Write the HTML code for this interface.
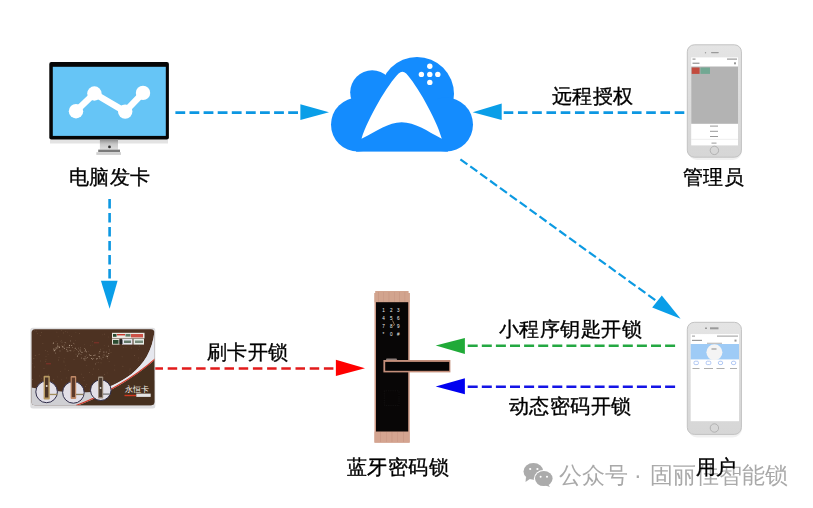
<!DOCTYPE html>
<html><head><meta charset="utf-8">
<style>
html,body{margin:0;padding:0;background:#fff;width:813px;height:508px;overflow:hidden}
body{position:relative;font-family:"Liberation Sans",sans-serif}
svg{position:absolute;left:0;top:0}
.t{position:absolute;font-size:20.4px;line-height:20px;color:#000;white-space:nowrap;letter-spacing:0.45px;will-change:transform;-webkit-text-stroke:0.35px #000}
.wm{position:absolute;font-size:23px;line-height:23px;color:#a9a9a9;white-space:nowrap;will-change:transform}
</style></head><body>
<svg width="813" height="508" viewBox="0 0 813 508">
<!-- ========== dashed lines ========== -->
<g fill="none" stroke-width="2.6">
 <path d="M175.4 112.6 L300.5 112.6" stroke="#0c97e2" stroke-dasharray="9.8 4.3"/>
 <path d="M684.3 112.6 L502 112.6" stroke="#0c97e2" stroke-dasharray="9.6 4.65"/>
 <path d="M109.6 199.1 L109.6 281" stroke="#0c97e2" stroke-dasharray="9.3 4.7"/>
 <path d="M460.4 159.3 L656.5 301" stroke="#0c9ae2" stroke-width="2.2" stroke-dasharray="8.6 3.6"/>
 <path d="M153.5 368.5 L336 368.5" stroke="#e21b1b" stroke-dasharray="9.5 4.7"/>
 <path d="M675.1 345.7 L465 345.7" stroke="#24a842" stroke-dasharray="10 4.1"/>
 <path d="M675.1 386.7 L465 386.7" stroke="#1414e6" stroke-dasharray="10 4.1"/>
</g>
<!-- arrowheads -->
<polygon points="300.4,104.3 300.4,120 329,112.2" fill="#0a9ee8"/>
<polygon points="501.7,103.4 501.7,120 472.7,112.2" fill="#0a9ee8"/>
<polygon points="100.9,280.7 117.6,280.7 109.6,308.8" fill="#0a9ee8"/>
<polygon points="661.8,295.6 652.2,307.4 680.6,318.8" fill="#0a9ee8"/>
<polygon points="335.9,359.7 335.9,376 365,368.3" fill="#ff0000"/>
<polygon points="464.9,338 464.9,354 435.7,345.5" fill="#20aa38"/>
<polygon points="464.9,378.2 464.9,394.2 435.7,386.6" fill="#0000f0"/>

<!-- ========== monitor ========== -->
<rect x="50" y="139.5" width="118" height="4" fill="#dcdcdc" opacity="0.8"/>
<rect x="49.3" y="62" width="119.6" height="77.4" rx="2" fill="#060606"/>
<rect x="52.8" y="66.8" width="113" height="69.1" fill="#66c5f6"/>
<polyline points="76,111.2 94.4,93.5 125.2,111.6 143,92.9" fill="none" stroke="#fff" stroke-width="6.5" stroke-linejoin="round"/>
<circle cx="76" cy="111.2" r="7.2" fill="#fff"/>
<circle cx="94.4" cy="93.5" r="7.2" fill="#fff"/>
<circle cx="125.2" cy="111.6" r="7.2" fill="#fff"/>
<circle cx="143" cy="92.9" r="7.2" fill="#fff"/>
<defs>
 <linearGradient id="stand" x1="0" y1="0" x2="0" y2="1">
  <stop offset="0" stop-color="#8f8f8f"/><stop offset="0.45" stop-color="#c8c8c8"/><stop offset="1" stop-color="#dedede"/>
 </linearGradient>
</defs>
<rect x="99.9" y="139.5" width="18.1" height="10.1" fill="url(#stand)"/>
<circle cx="109.5" cy="146.9" r="1.4" fill="#333"/>
<rect x="98.2" y="149.6" width="21.8" height="2.6" fill="#7a7a7a"/>
<rect x="96.3" y="152.2" width="24.7" height="2.7" fill="#cfcfcf"/>

<!-- ========== cloud ========== -->
<g fill="#148cfe">
 <circle cx="358" cy="124.6" r="27"/>
 <circle cx="372.2" cy="92.3" r="22"/>
 <circle cx="417" cy="94" r="37"/>
 <circle cx="446" cy="124.6" r="27"/>
 <rect x="356" y="100" width="92" height="51.6"/>
</g>
<path d="M361.5 138.7 C368 118, 388 84, 398.6 73.6 Q402.4 69.8, 406.2 73.6 C416 84, 436 118, 441.8 138.8 C427 131, 415 122.3, 401.7 122.3 C388 122.3, 378 131, 361.5 138.7 Z" fill="#fff"/>
<g fill="#fff">
 <circle cx="429.8" cy="66.2" r="2.7"/>
 <circle cx="429.8" cy="74.4" r="2.7"/>
 <circle cx="429.8" cy="82.4" r="2.7"/>
 <circle cx="421.4" cy="74.4" r="2.7"/>
 <circle cx="437.8" cy="74.4" r="2.7"/>
</g>

<!-- ========== admin phone ========== -->
<defs><linearGradient id="phg" x1="0" y1="0" x2="0" y2="1"><stop offset="0" stop-color="#e4e4e4"/><stop offset="1" stop-color="#d6d6d6"/></linearGradient></defs>
<rect x="688" y="47" width="54" height="113" rx="9" fill="#000" opacity="0.06"/>
<rect x="687.3" y="44.8" width="54.1" height="112.4" rx="7" fill="url(#phg)" stroke="#c2c2c2" stroke-width="1"/>
<rect x="691.2" y="57.4" width="46.8" height="88" fill="#fff"/>
<rect x="691.2" y="66.5" width="46.8" height="57.3" fill="#b3b3b3"/>
<rect x="691.7" y="67.5" width="7.9" height="6.4" fill="#c24b3e"/>
<rect x="700.4" y="67.5" width="9.6" height="6.4" fill="#72a893"/>
<rect x="711" y="52" width="7.8" height="1.2" rx="0.6" fill="#9a9a9a"/>
<circle cx="705.5" cy="52.7" r="0.7" fill="#9a9a9a"/>
<g fill="#999">
 <rect x="692.5" y="58.5" width="3" height="1.2"/><rect x="727" y="58.5" width="10" height="1.2"/>
 <rect x="692.5" y="62.6" width="7" height="1.3"/><rect x="734" y="62.3" width="2" height="2"/>
 <rect x="710" y="125.6" width="8" height="1"/><rect x="710" y="130.8" width="8" height="1"/>
 <rect x="710" y="136" width="8" height="1"/><rect x="711.5" y="142.6" width="5" height="1"/>
</g>
<rect x="691.2" y="138.9" width="46.8" height="0.5" fill="#ddd"/>
<circle cx="714.4" cy="150.4" r="4.2" fill="none" stroke="#a8a8a8" stroke-width="0.8"/>

<!-- ========== user phone ========== -->
<rect x="688" y="324.5" width="54" height="113" rx="9" fill="#000" opacity="0.06"/>
<rect x="687.3" y="322.3" width="54.1" height="112.1" rx="7" fill="url(#phg)" stroke="#c2c2c2" stroke-width="1"/>
<rect x="690.7" y="334.1" width="48.3" height="87.1" fill="#fff"/>
<rect x="690.7" y="344" width="48.3" height="15.4" fill="#9ecbf6"/>
<circle cx="714.4" cy="352.3" r="8" fill="#f4f4f4"/>
<rect x="705" y="327.5" width="2" height="1.5" fill="#9a9a9a"/>
<rect x="710" y="327.3" width="8.5" height="2" fill="#9a9a9a"/>
<g fill="#9a9a9a">
 <rect x="692" y="335.6" width="3" height="1"/><rect x="717" y="335.6" width="21" height="1"/>
 <rect x="692" y="339.8" width="10" height="1.2"/><rect x="734.5" y="339.6" width="2" height="2"/>
 <rect x="707" y="342.8" width="15" height="0.8"/>
 <rect x="711.5" y="348.4" width="5" height="1.2"/>
 <rect x="692.5" y="368" width="7" height="0.8"/><rect x="704" y="368" width="9" height="0.8"/>
 <rect x="716.5" y="368" width="8" height="0.8"/><rect x="730" y="368" width="7" height="0.8"/>
</g>
<g fill="none" stroke="#8fb0ee" stroke-width="0.7">
 <rect x="694" y="361.2" width="4.4" height="3.4" rx="1.2"/>
 <rect x="706.2" y="361.2" width="4.6" height="3.4" rx="1.2"/>
 <rect x="718.3" y="361.2" width="4.4" height="3.4" rx="1.7"/>
 <rect x="731.4" y="361.2" width="4.4" height="3.4" rx="1.7"/>
</g>
<circle cx="714.4" cy="428" r="4.2" fill="none" stroke="#a8a8a8" stroke-width="0.8"/>

<!-- ========== card ========== -->
<rect x="30.3" y="327.8" width="125" height="80.8" rx="2.5" fill="#dedee0"/>
<defs>
 <clipPath id="cardclip"><rect x="31.6" y="329.2" width="122.8" height="76" rx="3.5"/></clipPath>
</defs>
<g clip-path="url(#cardclip)">
 <rect x="31" y="329" width="124" height="77" fill="#4d3222"/>
 <circle cx="69.4" cy="350.2" r="0.3" fill="#f0dcc4" opacity="0.85"/>
 <circle cx="55.6" cy="353.0" r="0.5" fill="#f0dcc4" opacity="0.45"/>
 <circle cx="104.6" cy="355.0" r="0.4" fill="#f0dcc4" opacity="0.45"/>
 <circle cx="64.4" cy="348.3" r="0.5" fill="#f0dcc4" opacity="0.65"/>
 <circle cx="53.5" cy="343.1" r="0.5" fill="#f0dcc4" opacity="0.85"/>
 <circle cx="85.0" cy="351.4" r="0.3" fill="#f0dcc4" opacity="0.85"/>
 <circle cx="85.1" cy="356.7" r="0.5" fill="#f0dcc4" opacity="0.45"/>
 <circle cx="67.4" cy="347.8" r="0.3" fill="#f0dcc4" opacity="0.85"/>
 <circle cx="57.1" cy="346.5" r="0.3" fill="#f0dcc4" opacity="0.45"/>
 <circle cx="84.9" cy="359.9" r="0.5" fill="#f0dcc4" opacity="0.45"/>
 <circle cx="72.3" cy="347.3" r="0.3" fill="#f0dcc4" opacity="0.85"/>
 <circle cx="62.4" cy="346.8" r="0.5" fill="#f0dcc4" opacity="0.85"/>
 <circle cx="75.7" cy="348.1" r="0.4" fill="#f0dcc4" opacity="0.65"/>
 <circle cx="68.0" cy="351.1" r="0.3" fill="#f0dcc4" opacity="0.85"/>
 <circle cx="96.8" cy="359.3" r="0.4" fill="#f0dcc4" opacity="0.65"/>
 <circle cx="93.8" cy="358.3" r="0.4" fill="#f0dcc4" opacity="0.85"/>
 <circle cx="108.8" cy="355.1" r="0.4" fill="#f0dcc4" opacity="0.45"/>
 <circle cx="106.0" cy="356.3" r="0.4" fill="#f0dcc4" opacity="0.45"/>
 <circle cx="107.7" cy="356.8" r="0.4" fill="#f0dcc4" opacity="0.65"/>
 <circle cx="91.7" cy="358.6" r="0.5" fill="#f0dcc4" opacity="0.65"/>
 <circle cx="84.8" cy="348.5" r="0.4" fill="#f0dcc4" opacity="0.65"/>
 <circle cx="91.8" cy="358.4" r="0.3" fill="#f0dcc4" opacity="0.45"/>
 <circle cx="93.9" cy="355.4" r="0.5" fill="#f0dcc4" opacity="0.65"/>
 <circle cx="67.1" cy="351.0" r="0.4" fill="#f0dcc4" opacity="0.85"/>
 <circle cx="70.8" cy="350.7" r="0.5" fill="#f0dcc4" opacity="0.45"/>
 <circle cx="79.6" cy="350.7" r="0.3" fill="#f0dcc4" opacity="0.65"/>
 <circle cx="57.8" cy="348.4" r="0.4" fill="#f0dcc4" opacity="0.45"/>
 <circle cx="60.0" cy="350.9" r="0.4" fill="#f0dcc4" opacity="0.85"/>
 <circle cx="66.7" cy="349.3" r="0.5" fill="#f0dcc4" opacity="0.65"/>
 <circle cx="92.4" cy="359.4" r="0.4" fill="#f0dcc4" opacity="0.85"/>
 <circle cx="103.1" cy="357.1" r="0.3" fill="#f0dcc4" opacity="0.45"/>
 <circle cx="63.9" cy="346.6" r="0.3" fill="#f0dcc4" opacity="0.45"/>
 <circle cx="79.1" cy="349.4" r="0.3" fill="#f0dcc4" opacity="0.45"/>
 <circle cx="75.1" cy="348.2" r="0.4" fill="#f0dcc4" opacity="0.85"/>
 <circle cx="84.0" cy="358.7" r="0.5" fill="#f0dcc4" opacity="0.85"/>
 <circle cx="89.3" cy="354.7" r="0.5" fill="#f0dcc4" opacity="0.45"/>
 <circle cx="77.4" cy="356.1" r="0.5" fill="#f0dcc4" opacity="0.85"/>
 <circle cx="73.5" cy="343.2" r="0.4" fill="#f0dcc4" opacity="0.65"/>
 <circle cx="56.2" cy="348.2" r="0.3" fill="#f0dcc4" opacity="0.45"/>
 <circle cx="76.4" cy="349.3" r="0.3" fill="#f0dcc4" opacity="0.65"/>
 <circle cx="86.0" cy="358.3" r="0.5" fill="#f0dcc4" opacity="0.45"/>
 <circle cx="106.9" cy="356.1" r="0.5" fill="#f0dcc4" opacity="0.45"/>
 <circle cx="54.2" cy="350.7" r="0.5" fill="#f0dcc4" opacity="0.65"/>
 <circle cx="107.3" cy="356.4" r="0.5" fill="#f0dcc4" opacity="0.65"/>
 <circle cx="78.4" cy="354.0" r="0.4" fill="#f0dcc4" opacity="0.65"/>
 <circle cx="79.0" cy="353.9" r="0.3" fill="#f0dcc4" opacity="0.45"/>
 <circle cx="56.1" cy="347.6" r="0.5" fill="#f0dcc4" opacity="0.45"/>
 <circle cx="81.0" cy="354.6" r="0.3" fill="#f0dcc4" opacity="0.85"/>
 <circle cx="71.7" cy="345.6" r="0.5" fill="#f0dcc4" opacity="0.65"/>
 <circle cx="108.7" cy="346.1" r="0.3" fill="#f0dcc4" opacity="0.85"/>
 <circle cx="100.7" cy="349.2" r="0.4" fill="#f0dcc4" opacity="0.45"/>
 <circle cx="82.0" cy="352.2" r="0.5" fill="#f0dcc4" opacity="0.65"/>
 <circle cx="88.2" cy="351.5" r="0.3" fill="#f0dcc4" opacity="0.45"/>
 <circle cx="99.1" cy="352.9" r="0.5" fill="#f0dcc4" opacity="0.45"/>
 <circle cx="62.0" cy="342.1" r="0.3" fill="#f0dcc4" opacity="0.65"/>
 <circle cx="78.3" cy="351.4" r="0.3" fill="#f0dcc4" opacity="0.85"/>
 <circle cx="86.3" cy="351.8" r="0.5" fill="#f0dcc4" opacity="0.65"/>
 <circle cx="107.3" cy="358.2" r="0.4" fill="#f0dcc4" opacity="0.45"/>
 <circle cx="63.2" cy="347.4" r="0.3" fill="#f0dcc4" opacity="0.65"/>
 <circle cx="87.4" cy="357.6" r="0.5" fill="#f0dcc4" opacity="0.45"/>
 <circle cx="78.8" cy="348.1" r="0.3" fill="#f0dcc4" opacity="0.85"/>
 <circle cx="57.2" cy="343.9" r="0.4" fill="#f0dcc4" opacity="0.85"/>
 <circle cx="95.0" cy="355.0" r="0.5" fill="#f0dcc4" opacity="0.65"/>
 <circle cx="55.2" cy="349.7" r="0.5" fill="#f0dcc4" opacity="0.65"/>
 <circle cx="77.8" cy="350.8" r="0.3" fill="#f0dcc4" opacity="0.45"/>
 <circle cx="109.6" cy="350.9" r="0.3" fill="#f0dcc4" opacity="0.45"/>
 <circle cx="85.4" cy="350.1" r="0.5" fill="#f0dcc4" opacity="0.85"/>
 <circle cx="108.8" cy="353.6" r="0.5" fill="#f0dcc4" opacity="0.65"/>
 <circle cx="59.4" cy="347.2" r="0.5" fill="#f0dcc4" opacity="0.85"/>
 <circle cx="56.2" cy="348.8" r="0.5" fill="#f0dcc4" opacity="0.45"/>
 <circle cx="76.0" cy="354.1" r="0.3" fill="#f0dcc4" opacity="0.45"/>
 <circle cx="65.1" cy="342.7" r="0.4" fill="#f0dcc4" opacity="0.85"/>
 <circle cx="64.4" cy="344.9" r="0.4" fill="#f0dcc4" opacity="0.45"/>
 <circle cx="53.7" cy="348.9" r="0.5" fill="#f0dcc4" opacity="0.65"/>
 <circle cx="103.9" cy="351.9" r="0.5" fill="#f0dcc4" opacity="0.65"/>
 <circle cx="99.6" cy="351.4" r="0.5" fill="#f0dcc4" opacity="0.45"/>
 <circle cx="81.9" cy="352.4" r="0.4" fill="#f0dcc4" opacity="0.45"/>
 <circle cx="86.5" cy="355.1" r="0.3" fill="#f0dcc4" opacity="0.45"/>
 <circle cx="58.5" cy="346.9" r="0.3" fill="#f0dcc4" opacity="0.65"/>
 <circle cx="90.9" cy="355.5" r="0.5" fill="#f0dcc4" opacity="0.85"/>
 <circle cx="78.9" cy="352.5" r="0.3" fill="#f0dcc4" opacity="0.45"/>
 <circle cx="61.5" cy="340.8" r="0.3" fill="#f0dcc4" opacity="0.45"/>
 <circle cx="80.5" cy="347.2" r="0.3" fill="#f0dcc4" opacity="0.65"/>
 <circle cx="69.5" cy="345.5" r="0.5" fill="#f0dcc4" opacity="0.85"/>
 <circle cx="80.7" cy="351.1" r="0.5" fill="#f0dcc4" opacity="0.65"/>
 <circle cx="80.5" cy="349.0" r="0.3" fill="#f0dcc4" opacity="0.85"/>
 <circle cx="81.4" cy="357.9" r="0.5" fill="#f0dcc4" opacity="0.45"/>
 <circle cx="100.4" cy="351.1" r="0.3" fill="#f0dcc4" opacity="0.65"/>
 <circle cx="57.3" cy="347.4" r="0.3" fill="#f0dcc4" opacity="0.65"/>
 <circle cx="54.4" cy="350.2" r="0.5" fill="#f0dcc4" opacity="0.65"/>
 <circle cx="97.0" cy="358.4" r="0.5" fill="#f0dcc4" opacity="0.85"/>
 <circle cx="89.6" cy="355.1" r="0.3" fill="#f0dcc4" opacity="0.65"/>
 <circle cx="103.0" cy="357.6" r="0.3" fill="#f0dcc4" opacity="0.65"/>
 <circle cx="103.1" cy="354.9" r="0.3" fill="#f0dcc4" opacity="0.85"/>
 <circle cx="99.9" cy="358.1" r="0.5" fill="#f0dcc4" opacity="0.65"/>
 <circle cx="70.3" cy="350.7" r="0.3" fill="#f0dcc4" opacity="0.65"/>
 <circle cx="69.1" cy="347.3" r="0.5" fill="#f0dcc4" opacity="0.65"/>
 <circle cx="76.4" cy="349.5" r="0.3" fill="#f0dcc4" opacity="0.65"/>
 <circle cx="69.9" cy="344.9" r="0.3" fill="#f0dcc4" opacity="0.45"/>
 <circle cx="109.1" cy="349.8" r="0.3" fill="#f0dcc4" opacity="0.45"/>
 <circle cx="55.0" cy="348.5" r="0.3" fill="#f0dcc4" opacity="0.65"/>
 <circle cx="95.3" cy="363.9" r="0.4" fill="#f0dcc4" opacity="0.85"/>
 <circle cx="99.1" cy="356.4" r="0.5" fill="#f0dcc4" opacity="0.85"/>
 <circle cx="79.7" cy="353.6" r="0.4" fill="#f0dcc4" opacity="0.45"/>
 <circle cx="66.7" cy="347.7" r="0.3" fill="#f0dcc4" opacity="0.65"/>
 <circle cx="106.3" cy="352.0" r="0.5" fill="#f0dcc4" opacity="0.45"/>
 <circle cx="98.1" cy="362.2" r="0.3" fill="#f0dcc4" opacity="0.65"/>
 <circle cx="101.8" cy="359.0" r="0.4" fill="#f0dcc4" opacity="0.45"/>
 <circle cx="70.3" cy="340.9" r="0.4" fill="#f0dcc4" opacity="0.85"/>
 <circle cx="57.8" cy="346.0" r="0.5" fill="#f0dcc4" opacity="0.85"/>
 <circle cx="58.2" cy="336.8" r="0.4" fill="#9a7a60" opacity="0.4"/>
 <circle cx="60.8" cy="341.2" r="0.4" fill="#9a7a60" opacity="0.6"/>
 <circle cx="101.2" cy="362.9" r="0.4" fill="#9a7a60" opacity="0.4"/>
 <circle cx="63.9" cy="361.0" r="0.4" fill="#9a7a60" opacity="0.4"/>
 <circle cx="61.8" cy="379.8" r="0.4" fill="#9a7a60" opacity="0.6"/>
 <circle cx="36.1" cy="331.1" r="0.4" fill="#9a7a60" opacity="0.8"/>
 <circle cx="92.6" cy="341.7" r="0.4" fill="#9a7a60" opacity="0.6"/>
 <circle cx="59.0" cy="357.7" r="0.4" fill="#9a7a60" opacity="0.8"/>
 <circle cx="122.1" cy="356.8" r="0.4" fill="#9a7a60" opacity="0.6"/>
 <circle cx="92.0" cy="385.1" r="0.4" fill="#9a7a60" opacity="0.8"/>
 <circle cx="65.9" cy="343.3" r="0.4" fill="#9a7a60" opacity="0.4"/>
 <circle cx="69.7" cy="381.6" r="0.4" fill="#9a7a60" opacity="0.8"/>
 <circle cx="112.2" cy="338.7" r="0.4" fill="#9a7a60" opacity="0.6"/>
 <circle cx="140.0" cy="381.9" r="0.4" fill="#9a7a60" opacity="0.4"/>
 <circle cx="39.8" cy="375.9" r="0.4" fill="#9a7a60" opacity="0.6"/>
 <circle cx="79.4" cy="333.4" r="0.4" fill="#9a7a60" opacity="0.8"/>
 <circle cx="124.5" cy="384.0" r="0.4" fill="#9a7a60" opacity="0.8"/>
 <circle cx="138.8" cy="367.1" r="0.4" fill="#9a7a60" opacity="0.8"/>
 <circle cx="64.2" cy="358.5" r="0.4" fill="#9a7a60" opacity="0.4"/>
 <circle cx="61.6" cy="330.2" r="0.4" fill="#9a7a60" opacity="0.6"/>
 <circle cx="137.8" cy="390.3" r="0.4" fill="#9a7a60" opacity="0.8"/>
 <circle cx="67.6" cy="332.1" r="0.4" fill="#9a7a60" opacity="0.6"/>
 <circle cx="56.0" cy="341.3" r="0.4" fill="#9a7a60" opacity="0.6"/>
 <circle cx="74.0" cy="359.4" r="0.4" fill="#9a7a60" opacity="0.8"/>
 <circle cx="104.2" cy="345.4" r="0.4" fill="#9a7a60" opacity="0.4"/>
 <circle cx="42.0" cy="380.7" r="0.4" fill="#9a7a60" opacity="0.4"/>
 <circle cx="75.9" cy="332.6" r="0.4" fill="#9a7a60" opacity="0.4"/>
 <circle cx="65.0" cy="369.0" r="0.4" fill="#9a7a60" opacity="0.4"/>
 <circle cx="96.4" cy="362.8" r="0.4" fill="#9a7a60" opacity="0.4"/>
 <circle cx="104.3" cy="374.4" r="0.4" fill="#9a7a60" opacity="0.8"/>
 <circle cx="74.8" cy="350.2" r="0.4" fill="#9a7a60" opacity="0.6"/>
 <circle cx="48.4" cy="374.9" r="0.4" fill="#9a7a60" opacity="0.8"/>
 <circle cx="47.9" cy="381.1" r="0.4" fill="#9a7a60" opacity="0.8"/>
 <circle cx="130.1" cy="368.9" r="0.4" fill="#9a7a60" opacity="0.8"/>
 <circle cx="109.1" cy="361.3" r="0.4" fill="#9a7a60" opacity="0.8"/>
 <circle cx="114.8" cy="365.2" r="0.4" fill="#9a7a60" opacity="0.4"/>
 <circle cx="122.9" cy="366.2" r="0.4" fill="#9a7a60" opacity="0.8"/>
 <circle cx="107.1" cy="373.0" r="0.4" fill="#9a7a60" opacity="0.4"/>
 <circle cx="41.4" cy="332.6" r="0.4" fill="#9a7a60" opacity="0.8"/>
 <circle cx="71.7" cy="336.5" r="0.4" fill="#9a7a60" opacity="0.6"/>
 <circle cx="93.4" cy="368.9" r="0.4" fill="#9a7a60" opacity="0.8"/>
 <circle cx="90.5" cy="345.2" r="0.4" fill="#9a7a60" opacity="0.6"/>
 <circle cx="32.4" cy="379.5" r="0.4" fill="#9a7a60" opacity="0.8"/>
 <circle cx="134.6" cy="385.7" r="0.4" fill="#9a7a60" opacity="0.4"/>
 <circle cx="104.5" cy="334.1" r="0.4" fill="#9a7a60" opacity="0.8"/>
 <circle cx="84.1" cy="380.2" r="0.4" fill="#9a7a60" opacity="0.6"/>
 <circle cx="57.8" cy="376.9" r="0.4" fill="#9a7a60" opacity="0.4"/>
 <circle cx="113.4" cy="390.5" r="0.4" fill="#9a7a60" opacity="0.6"/>
 <circle cx="125.0" cy="334.8" r="0.4" fill="#9a7a60" opacity="0.8"/>
 <circle cx="63.6" cy="332.9" r="0.4" fill="#9a7a60" opacity="0.8"/>
 <circle cx="102.7" cy="334.8" r="0.4" fill="#9a7a60" opacity="0.4"/>
 <circle cx="68.5" cy="370.4" r="0.4" fill="#9a7a60" opacity="0.8"/>
 <circle cx="65.5" cy="365.2" r="0.4" fill="#9a7a60" opacity="0.4"/>
 <circle cx="85.1" cy="360.1" r="0.4" fill="#9a7a60" opacity="0.8"/>
 <circle cx="42.9" cy="343.5" r="0.4" fill="#9a7a60" opacity="0.6"/>
 <circle cx="64.0" cy="362.0" r="0.4" fill="#9a7a60" opacity="0.6"/>
 <circle cx="83.2" cy="377.6" r="0.4" fill="#9a7a60" opacity="0.8"/>
 <circle cx="53.9" cy="390.6" r="0.4" fill="#9a7a60" opacity="0.6"/>
 <circle cx="33.9" cy="358.5" r="0.4" fill="#9a7a60" opacity="0.8"/>
 <circle cx="138.5" cy="357.9" r="0.4" fill="#9a7a60" opacity="0.6"/>
 <circle cx="74.6" cy="386.8" r="0.4" fill="#9a7a60" opacity="0.4"/>
 <circle cx="40.2" cy="335.6" r="0.4" fill="#9a7a60" opacity="0.8"/>
 <circle cx="89.6" cy="389.1" r="0.4" fill="#9a7a60" opacity="0.4"/>
 <circle cx="98.4" cy="369.2" r="0.4" fill="#9a7a60" opacity="0.6"/>
 <circle cx="129.6" cy="373.6" r="0.4" fill="#9a7a60" opacity="0.4"/>
 <circle cx="86.8" cy="384.3" r="0.4" fill="#9a7a60" opacity="0.6"/>
 <circle cx="34.7" cy="330.2" r="0.4" fill="#9a7a60" opacity="0.6"/>
 <circle cx="107.0" cy="355.1" r="0.4" fill="#9a7a60" opacity="0.8"/>
 <circle cx="47.5" cy="351.3" r="0.4" fill="#9a7a60" opacity="0.6"/>
 <circle cx="45.3" cy="350.5" r="0.4" fill="#9a7a60" opacity="0.6"/>
 <circle cx="114.6" cy="382.0" r="0.4" fill="#9a7a60" opacity="0.4"/>
 <circle cx="135.4" cy="342.1" r="0.4" fill="#9a7a60" opacity="0.4"/>
 <circle cx="131.2" cy="348.0" r="0.4" fill="#9a7a60" opacity="0.6"/>
 <circle cx="39.1" cy="354.2" r="0.4" fill="#9a7a60" opacity="0.8"/>
 <circle cx="40.4" cy="387.4" r="0.4" fill="#9a7a60" opacity="0.6"/>
 <circle cx="126.0" cy="347.4" r="0.4" fill="#9a7a60" opacity="0.4"/>
 <circle cx="123.8" cy="347.7" r="0.4" fill="#9a7a60" opacity="0.4"/>
 <circle cx="59.4" cy="346.5" r="0.4" fill="#9a7a60" opacity="0.8"/>
 <circle cx="66.7" cy="377.9" r="0.4" fill="#9a7a60" opacity="0.6"/>
 <circle cx="129.3" cy="380.3" r="0.4" fill="#9a7a60" opacity="0.8"/>
 <circle cx="76.0" cy="384.3" r="0.4" fill="#9a7a60" opacity="0.8"/>
 <circle cx="92.4" cy="374.6" r="0.4" fill="#9a7a60" opacity="0.4"/>
 <circle cx="134.7" cy="355.5" r="0.4" fill="#9a7a60" opacity="0.8"/>
 <circle cx="114.8" cy="370.0" r="0.4" fill="#9a7a60" opacity="0.6"/>
 <circle cx="85.4" cy="386.5" r="0.4" fill="#9a7a60" opacity="0.8"/>
 <circle cx="46.0" cy="359.3" r="0.4" fill="#9a7a60" opacity="0.6"/>
 <circle cx="63.0" cy="345.9" r="0.4" fill="#9a7a60" opacity="0.8"/>
 <circle cx="139.4" cy="346.1" r="0.4" fill="#9a7a60" opacity="0.8"/>
 <circle cx="58.3" cy="360.0" r="0.4" fill="#9a7a60" opacity="0.8"/>
 <circle cx="75.4" cy="340.4" r="0.4" fill="#9a7a60" opacity="0.4"/>
 <circle cx="40.3" cy="361.0" r="0.4" fill="#9a7a60" opacity="0.6"/>
 <circle cx="92.5" cy="358.1" r="0.4" fill="#9a7a60" opacity="0.6"/>
 <circle cx="141.6" cy="357.9" r="0.4" fill="#9a7a60" opacity="0.4"/>
 <circle cx="92.3" cy="345.1" r="0.4" fill="#9a7a60" opacity="0.4"/>
 <circle cx="69.6" cy="335.6" r="0.4" fill="#9a7a60" opacity="0.4"/>
 <circle cx="72.5" cy="380.2" r="0.4" fill="#9a7a60" opacity="0.4"/>
 <circle cx="129.6" cy="376.5" r="0.4" fill="#9a7a60" opacity="0.6"/>
 <circle cx="74.1" cy="376.2" r="0.4" fill="#9a7a60" opacity="0.4"/>
 <circle cx="73.5" cy="351.0" r="0.4" fill="#9a7a60" opacity="0.4"/>
 <circle cx="86.8" cy="365.6" r="0.4" fill="#9a7a60" opacity="0.6"/>
 <circle cx="45.8" cy="361.2" r="0.4" fill="#9a7a60" opacity="0.8"/>
 <circle cx="118.9" cy="382.6" r="0.4" fill="#9a7a60" opacity="0.4"/>
 <circle cx="61.8" cy="345.4" r="0.4" fill="#9a7a60" opacity="0.6"/>
 <circle cx="103.0" cy="356.8" r="0.4" fill="#9a7a60" opacity="0.6"/>
 <circle cx="125.4" cy="384.1" r="0.4" fill="#9a7a60" opacity="0.4"/>
 <circle cx="46.0" cy="356.4" r="0.4" fill="#9a7a60" opacity="0.6"/>
 <circle cx="138.5" cy="360.4" r="0.4" fill="#9a7a60" opacity="0.4"/>
 <circle cx="75.1" cy="387.5" r="0.4" fill="#9a7a60" opacity="0.8"/>
 <circle cx="126.1" cy="390.3" r="0.4" fill="#9a7a60" opacity="0.4"/>
 <circle cx="118.1" cy="343.9" r="0.4" fill="#9a7a60" opacity="0.4"/>
 <circle cx="89.5" cy="372.3" r="0.4" fill="#9a7a60" opacity="0.8"/>
 <circle cx="109.1" cy="382.5" r="0.4" fill="#9a7a60" opacity="0.6"/>
 <circle cx="41.4" cy="378.2" r="0.4" fill="#9a7a60" opacity="0.4"/>
 <circle cx="118.1" cy="344.4" r="0.4" fill="#9a7a60" opacity="0.4"/>
 <circle cx="103.0" cy="348.8" r="0.4" fill="#9a7a60" opacity="0.4"/>
 <circle cx="100.9" cy="362.8" r="0.4" fill="#9a7a60" opacity="0.6"/>
 <circle cx="108.8" cy="337.0" r="0.4" fill="#9a7a60" opacity="0.4"/>
 <circle cx="65.0" cy="388.5" r="0.4" fill="#9a7a60" opacity="0.4"/>
 <circle cx="74.7" cy="343.9" r="0.4" fill="#9a7a60" opacity="0.8"/>
 <circle cx="32.1" cy="363.3" r="0.4" fill="#9a7a60" opacity="0.6"/>
 <circle cx="62.6" cy="349.6" r="0.4" fill="#9a7a60" opacity="0.4"/>
 <circle cx="84.3" cy="344.6" r="0.4" fill="#9a7a60" opacity="0.4"/>
 <circle cx="35.2" cy="355.5" r="0.4" fill="#9a7a60" opacity="0.8"/>
 <circle cx="65.8" cy="331.4" r="0.4" fill="#9a7a60" opacity="0.6"/>
 <circle cx="129.3" cy="370.1" r="0.4" fill="#9a7a60" opacity="0.4"/>
 <circle cx="60.3" cy="371.4" r="0.4" fill="#9a7a60" opacity="0.6"/>
 <circle cx="56.9" cy="332.1" r="0.4" fill="#9a7a60" opacity="0.6"/>
 <circle cx="111.0" cy="352.5" r="0.4" fill="#9a7a60" opacity="0.6"/>
 <circle cx="53.8" cy="379.4" r="0.4" fill="#9a7a60" opacity="0.8"/>
 <circle cx="125.0" cy="334.2" r="0.4" fill="#9a7a60" opacity="0.6"/>
 <circle cx="138.7" cy="349.3" r="0.4" fill="#9a7a60" opacity="0.4"/>
 <circle cx="57.4" cy="343.7" r="0.4" fill="#9a7a60" opacity="0.6"/>
 <circle cx="44.0" cy="368.7" r="0.4" fill="#9a7a60" opacity="0.8"/>
 <circle cx="52.6" cy="343.8" r="0.4" fill="#9a7a60" opacity="0.6"/>
 <circle cx="132.1" cy="333.5" r="0.4" fill="#9a7a60" opacity="0.8"/>
 <circle cx="48.1" cy="354.4" r="0.4" fill="#9a7a60" opacity="0.4"/>
 <circle cx="34.6" cy="367.0" r="0.4" fill="#9a7a60" opacity="0.6"/>
 <circle cx="37.7" cy="333.7" r="0.4" fill="#9a7a60" opacity="0.6"/>
 <circle cx="81.5" cy="374.1" r="0.4" fill="#9a7a60" opacity="0.6"/>
 <circle cx="112.6" cy="391.8" r="0.4" fill="#9a7a60" opacity="0.4"/>
 <rect x="46" y="363.5" width="5" height="0.7" fill="#c03030" opacity="0.7"/>
 <rect x="94" y="342.5" width="5" height="0.7" fill="#c03030" opacity="0.7"/>
 <path d="M31 387.5 C45 390, 68 393.5, 92 392 C118 386, 151 370, 154.5 331 L160 329 L160 410 L31 410 Z" fill="#cfcfd3"/>
 <path d="M92 392 C118 386, 151 370, 154.5 331 L156 331 L156 380 L92 400 Z" fill="#e6e7ee"/>
 <path d="M76 406 C100 397.5, 134 378.5, 156 358.5 L156 410 L76 410 Z" fill="#46301f"/>
 <path d="M76 405.5 C100 397, 134 378, 156 358" fill="none" stroke="#d03828" stroke-width="1.1"/>
</g>
<g>
 <circle cx="46.6" cy="391.9" r="10.8" fill="#e3e0e8" stroke="#2e2c48" stroke-width="1"/>
 <circle cx="73.4" cy="392.4" r="10.8" fill="#e3e0e8" stroke="#2e2c48" stroke-width="1"/>
 <circle cx="100.8" cy="390.2" r="10.3" fill="#e3e0e8" stroke="#2e2c48" stroke-width="1"/>
 <rect x="43.6" y="375.8" width="6.2" height="23.7" rx="1" fill="#b89a62"/><rect x="45" y="377.5" width="3.4" height="20" fill="#4a3426"/>
 <circle cx="46.7" cy="386" r="1" fill="#e8e0d0"/>
 <rect x="49.5" y="393.8" width="8" height="1.3" fill="#a08c5c"/>
 <rect x="70.6" y="376" width="5.6" height="23" rx="1" fill="#c08a68"/><rect x="71.8" y="377.6" width="3.2" height="19.5" fill="#5c3a2a"/>
 <rect x="76" y="393.8" width="7.5" height="1.3" fill="#8c7c5c"/>
 <rect x="98" y="376.5" width="5.2" height="22" rx="1" fill="#9c8c7c"/><rect x="99.1" y="378" width="3" height="19" fill="#4a3a30"/>
 <circle cx="100.6" cy="388" r="0.9" fill="#ddd"/>
 <rect x="103" y="393.5" width="7" height="1.2" fill="#707070"/>
</g>
<rect x="112" y="332.8" width="32.5" height="5.6" fill="#ece8e2"/>
<rect x="112" y="338.8" width="7.5" height="5.8" fill="#e6e2da"/>
<rect x="122" y="338.8" width="10.5" height="5.8" fill="#e6e6ee"/>
<rect x="133.5" y="338.8" width="10.5" height="5.8" fill="#e6ece6"/>
<g fill="#c8362a"><rect x="117" y="334" width="8" height="1.4"/><rect x="131" y="334" width="12" height="3.4" opacity="0.85"/></g>
<g fill="#2a4a30"><rect x="113" y="334" width="3.5" height="2.8"/><rect x="125.5" y="334" width="5" height="2.6" opacity="0.7"/>
 <rect x="113" y="340" width="5.5" height="3.8"/><rect x="119.5" y="339.5" width="3" height="4.5" fill="#222"/><rect x="124" y="340.5" width="7" height="2.5" opacity="0.7"/><rect x="135" y="340.5" width="8" height="2.5" opacity="0.6"/></g>
<text x="125.3" y="392" font-size="7.6" fill="#f4f0ea" font-family="Liberation Serif, serif">永恒卡</text>
<rect x="124.5" y="394.8" width="11.5" height="1.4" fill="#d03a22"/>
<rect x="136.3" y="393.6" width="14.4" height="3.3" fill="#e4e4e4"/>
<!-- ========== lock ========== -->
<rect x="374.5" y="293" width="35.2" height="149.6" fill="#cc9884"/>
<rect x="374.5" y="293" width="35.2" height="9.2" fill="#d2a48e"/>
<rect x="375.2" y="291" width="33.4" height="3" fill="#d2a48e"/>
<g fill="#b88272" opacity="0.35"><rect x="378" y="292" width="0.8" height="10"/><rect x="383" y="292" width="0.6" height="10"/><rect x="388.5" y="292" width="0.9" height="10"/><rect x="394" y="292" width="0.6" height="10"/><rect x="399" y="292" width="0.8" height="10"/><rect x="404.5" y="292" width="0.7" height="10"/></g>
<rect x="376" y="302.2" width="32.2" height="129.5" fill="#080606"/>
<rect x="374.5" y="431.7" width="35" height="10.9" fill="#d4a490"/>
<g fill="#b88272" opacity="0.35"><rect x="380" y="432" width="0.8" height="10"/><rect x="386" y="432" width="0.6" height="10"/><rect x="391.5" y="432" width="0.9" height="10"/><rect x="397" y="432" width="0.6" height="10"/><rect x="403" y="432" width="0.8" height="10"/></g>
<g fill="#f4f4f4" font-family="Liberation Sans, sans-serif" font-size="4.6" text-anchor="middle">
 <text x="383.5" y="312.2">1</text>
 <text x="391.3" y="312.2">2</text>
 <text x="398.3" y="312.2">3</text>
 <text x="383.5" y="320.2">4</text>
 <text x="391.3" y="320.2">5</text>
 <text x="398.3" y="320.2">6</text>
 <text x="383.5" y="327.8">7</text>
 <text x="391.3" y="327.8">8</text>
 <text x="398.3" y="327.8">9</text>
 <text x="383.5" y="335.8">*</text>
 <text x="391.3" y="335.8">0</text>
 <text x="398.3" y="335.8">#</text>
</g>
<path d="M392.5 320.5 L394.5 325 L393.3 325.6" stroke="#c89a6a" stroke-width="0.7" fill="none"/>
<rect x="384.3" y="390.8" width="14.7" height="14.7" fill="none" stroke="#222" stroke-width="0.4" stroke-dasharray="1 0.8"/>
<rect x="386" y="358.4" width="11" height="2" rx="1" fill="#8c7c78"/>
<rect x="383.4" y="360" width="67" height="12.4" fill="#c48e7a"/>
<rect x="385.2" y="361.9" width="64" height="8.9" fill="#060404"/>
</svg>

<div class="t" style="left:69px;top:167.3px">电脑发卡</div>
<div class="t" style="left:551.8px;top:85.8px">远程授权</div>
<div class="t" style="left:683px;top:166.8px">管理员</div>
<div class="t" style="left:206.6px;top:342px">刷卡开锁</div>
<div class="t" style="left:498.5px;top:318.8px">小程序钥匙开锁</div>
<div class="t" style="left:508.8px;top:395.6px">动态密码开锁</div>
<div class="t" style="left:346.9px;top:457px">蓝牙密码锁</div>

<!-- watermark -->
<svg width="813" height="508" viewBox="0 0 813 508">
 <g fill="#ababab">
  <ellipse cx="533.4" cy="471.4" rx="9.9" ry="8.3"/>
  <path d="M526 477 L525.5 482 L530.5 478.5 Z"/>
 </g>
 <ellipse cx="543.8" cy="478.6" rx="9.9" ry="8.5" fill="#fff"/>
 <g fill="#ababab">
  <ellipse cx="543.8" cy="478.6" rx="8.8" ry="7.5"/>
  <path d="M548 484 L550 487 L545.5 485.5 Z"/>
 </g>
 <g fill="#fff">
  <circle cx="530.2" cy="469" r="1.1"/><circle cx="537.4" cy="469" r="1.1"/>
  <circle cx="540.6" cy="476.7" r="1"/><circle cx="547" cy="476.7" r="1"/>
 </g>
</svg>
<div class="wm" style="left:558.8px;top:464px;letter-spacing:-0.25px">公众号</div>
<div class="wm" style="left:634px;top:464px">·</div>
<div class="wm" style="left:650px;top:464px;letter-spacing:0px">固丽佳智能锁</div>
<div class="t" style="left:695.9px;top:457.2px">用户</div>
</body></html>
